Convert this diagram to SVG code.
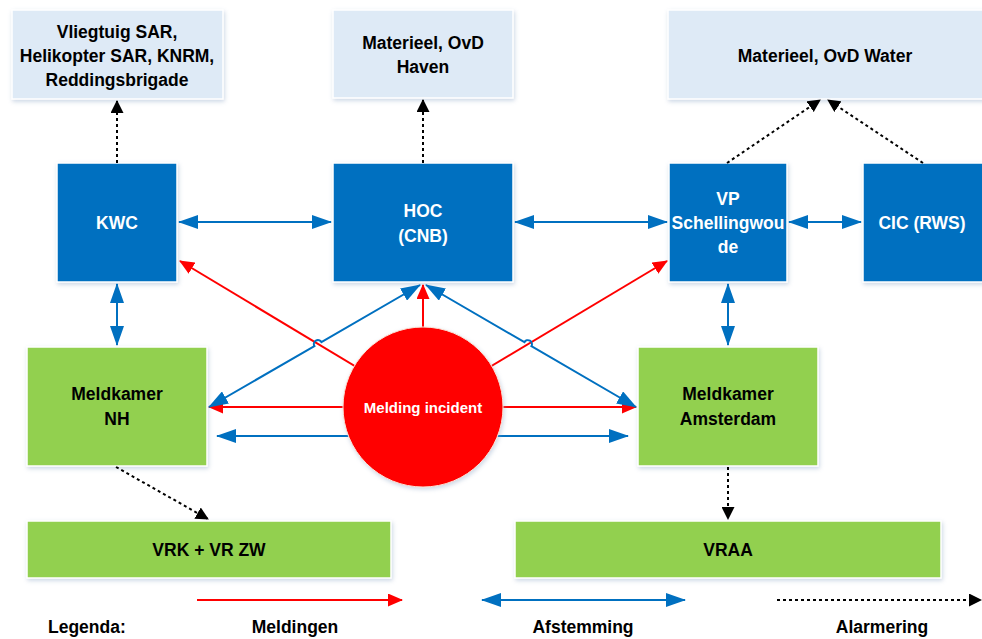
<svg xmlns="http://www.w3.org/2000/svg" width="982" height="639" viewBox="0 0 982 639">
<style>
.lt{fill:#DEEAF6;stroke:#fff;stroke-width:1.5;filter:url(#sh)}
.bl{fill:#0070C0;stroke:#fff;stroke-width:1.5;filter:url(#sh)}
.gr{fill:#92D050;stroke:#fff;stroke-width:1.5;filter:url(#sh)}
text{font-family:"Liberation Sans",Arial,sans-serif;font-weight:bold;font-size:17.5px;text-anchor:middle;fill:#000}
.w{fill:#fff}
.lg{text-anchor:start}
.cb{stroke:#0070C0;stroke-width:2;fill:none;marker-start:url(#ab);marker-end:url(#ab)}
.cr{stroke:#FF0000;stroke-width:2;fill:none;marker-end:url(#ar)}
.cd{stroke:#000;stroke-width:2;fill:none;stroke-dasharray:3 3;marker-end:url(#ak)}
</style>
<defs>
<filter id="sh" x="-10%" y="-10%" width="120%" height="130%">
<feDropShadow dx="1" dy="2" stdDeviation="2" flood-color="#8fa8c8" flood-opacity="0.45"/>
</filter>
<marker id="ab" markerUnits="userSpaceOnUse" markerWidth="20" markerHeight="14" viewBox="0 0 20 14" refX="19" refY="7" orient="auto-start-reverse"><path d="M0,0 L20,7 L0,14 z" fill="#0070C0"/></marker>
<marker id="ar" markerUnits="userSpaceOnUse" markerWidth="15" markerHeight="13" viewBox="0 0 15 13" refX="14" refY="6.5" orient="auto"><path d="M0,0 L15,6.5 L0,13 z" fill="#FF0000"/></marker>
<marker id="ak" markerUnits="userSpaceOnUse" markerWidth="13" markerHeight="13" viewBox="0 0 13 13" refX="12" refY="6.5" orient="auto"><path d="M0,0 L13,6.5 L0,13 z" fill="#000"/></marker>
</defs>
<rect width="982" height="639" fill="#fff"/>

<g id="sar"><rect class="lt" x="12" y="10" width="211" height="89"/>
<text x="117" y="38">Vliegtuig SAR,</text><text x="117" y="62">Helikopter SAR, KNRM,</text><text x="117" y="86">Reddingsbrigade</text></g>
<g id="haven"><rect class="lt" x="333" y="10" width="180" height="88"/>
<text x="423" y="49">Materieel, OvD</text><text x="423" y="73">Haven</text></g>
<g id="water"><rect class="lt" x="668" y="10" width="320" height="89"/>
<text x="825" y="62">Materieel, OvD Water</text></g>

<g id="kwc"><rect class="bl" x="57" y="163" width="120" height="119"/><text class="w" x="117" y="229">KWC</text></g>
<g id="hoc"><rect class="bl" x="333" y="163" width="180" height="119"/><text class="w" x="423" y="217">HOC</text><text class="w" x="423" y="242">(CNB)</text></g>
<g id="vp"><rect class="bl" x="669" y="163" width="118" height="119"/><text class="w" x="728" y="205">VP</text><text class="w" x="728" y="229">Schellingwou</text><text class="w" x="728" y="253">de</text></g>
<g id="cic"><rect class="bl" x="863" y="163" width="125" height="119"/><text class="w" x="922" y="229">CIC (RWS)</text></g>

<g id="mknh"><rect class="gr" x="27" y="347" width="180" height="119"/><text x="117" y="400">Meldkamer</text><text x="117" y="425">NH</text></g>
<g id="mkams"><rect class="gr" x="638" y="347" width="180" height="119"/><text x="728" y="400">Meldkamer</text><text x="728" y="425">Amsterdam</text></g>
<g id="vrk"><rect class="gr" x="27" y="521" width="364" height="57"/><text x="209" y="556">VRK + VR ZW</text></g>
<g id="vraa"><rect class="gr" x="515" y="521" width="426" height="57"/><text x="728" y="556">VRAA</text></g>

<g id="connectors">
<line class="cd" x1="117" y1="163" x2="117" y2="101"/>
<line class="cd" x1="423" y1="163" x2="423" y2="100"/>
<line class="cd" x1="727" y1="163" x2="820" y2="100"/>
<line class="cd" x1="923" y1="163" x2="828" y2="100"/>
<line class="cd" x1="116" y1="467" x2="208" y2="519"/>
<line class="cd" x1="728" y1="467" x2="728" y2="519"/>

<line class="cb" x1="179" y1="222" x2="331" y2="222"/>
<line class="cb" x1="515" y1="222" x2="667" y2="222"/>
<line class="cb" x1="789" y1="222" x2="861" y2="222"/>
<line class="cb" x1="117" y1="284" x2="117" y2="345"/>
<line class="cb" x1="728" y1="284" x2="728" y2="345"/>
<line class="cb" x1="217" y1="436" x2="628" y2="436"/>

<line class="cr" x1="423" y1="407" x2="180" y2="261"/>
<line class="cr" x1="423" y1="407" x2="667" y2="261"/>
<line class="cr" x1="423" y1="407" x2="423" y2="285"/>
<line class="cr" x1="423" y1="407" x2="209" y2="407"/>
<line class="cr" x1="423" y1="407" x2="636" y2="407"/>

<path class="cb" d="M209,407 L314.4,346.1 A4,4 0 0 1 321.4,342.1 L420,285"/>
<path class="cb" d="M426,285 L524.4,342.2 A4,4 0 0 1 531.4,346.2 L636,407"/>

<line class="cr" x1="197" y1="600" x2="402" y2="600"/>
<line class="cb" x1="482" y1="600" x2="685" y2="600"/>
<line class="cd" x1="777" y1="600" x2="981" y2="600"/>
</g>

<g id="incident"><circle cx="423" cy="407" r="80" fill="#FF0000" stroke="#fbe3d6" stroke-width="1" filter="url(#sh)"/>
<text class="w" x="423" y="413" style="font-size:15px">Melding incident</text></g>

<g id="legend">
<text class="lg" x="48" y="633">Legenda:</text>
<text x="295" y="633">Meldingen</text>
<text x="583" y="633">Afstemming</text>
<text x="882" y="633">Alarmering</text>
</g>
</svg>
